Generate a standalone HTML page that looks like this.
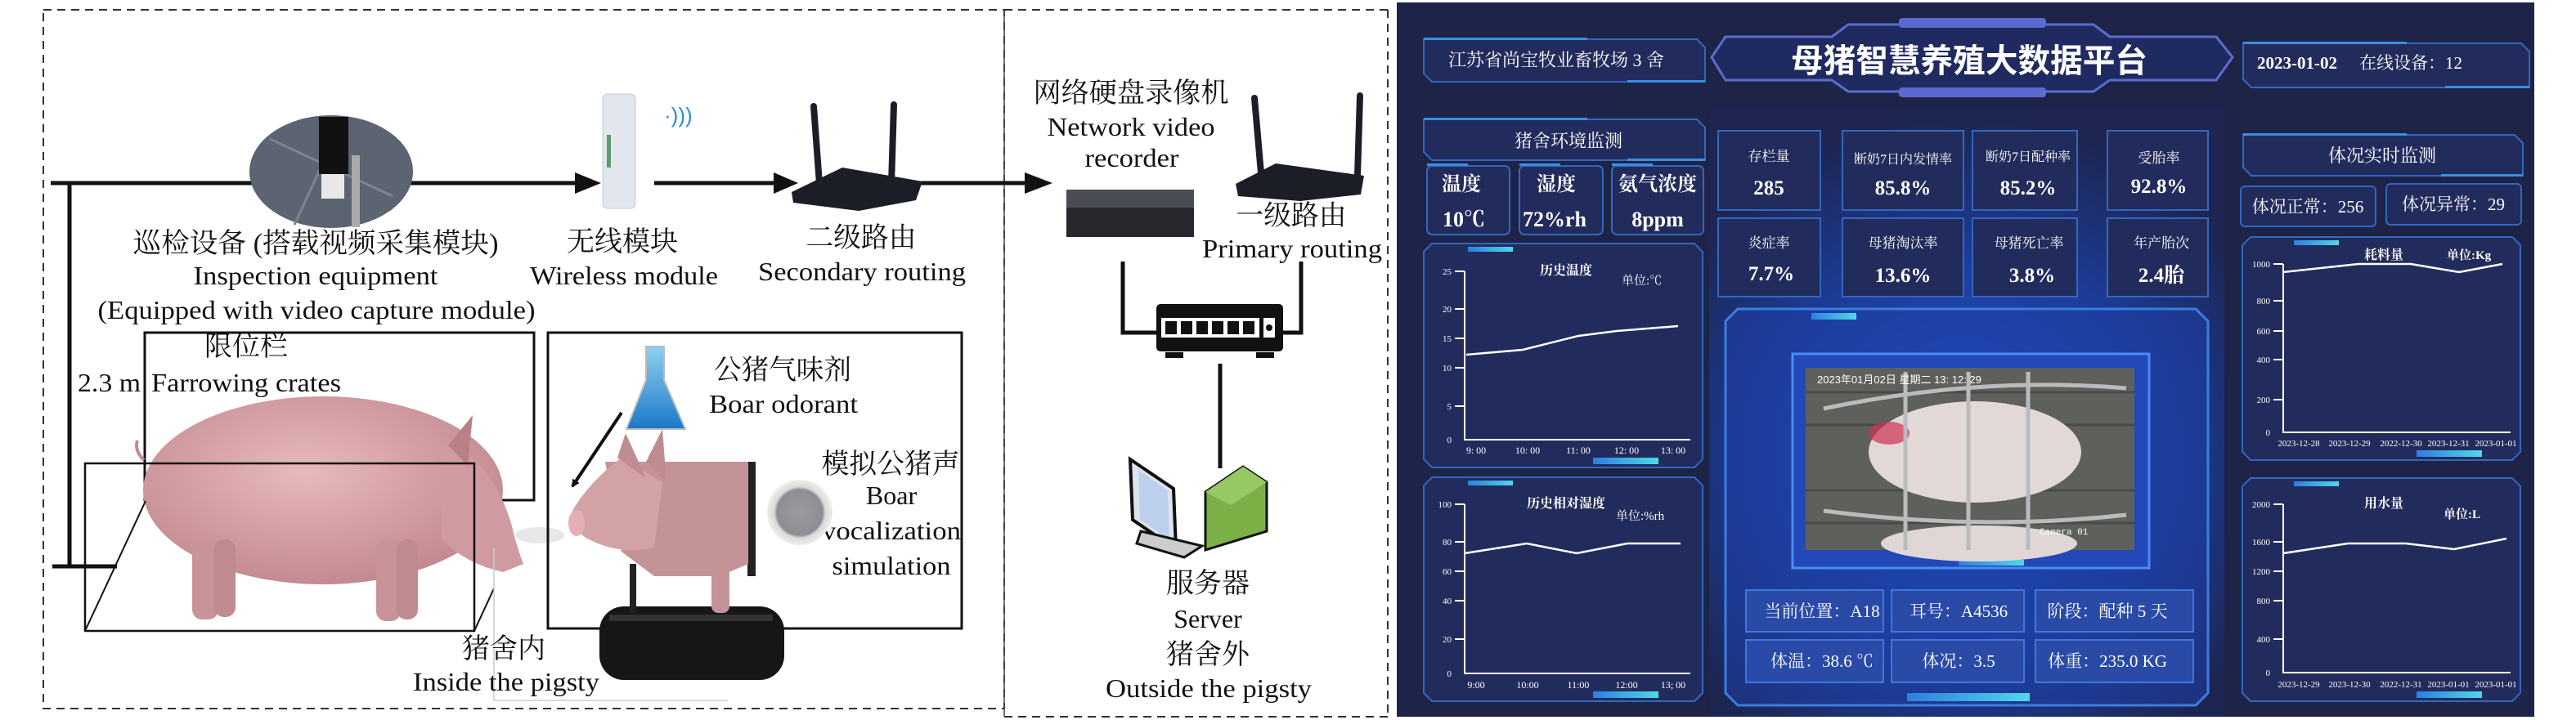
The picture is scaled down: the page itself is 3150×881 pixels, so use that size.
<!DOCTYPE html>
<html><head><meta charset="utf-8">
<style>
html,body{margin:0;padding:0;background:#fff;}
svg{display:block;}
.s{font-family:"Liberation Serif","Noto Serif CJK SC",serif;fill:#111;}
.w{font-family:"Liberation Serif","Noto Serif CJK SC",serif;fill:#fff;}
.wb{font-family:"Liberation Sans","Noto Sans CJK SC",sans-serif;fill:#fff;font-weight:bold;}
</style></head><body>
<svg width="3150" height="881" viewBox="0 0 3150 881" xmlns="http://www.w3.org/2000/svg">
<defs>
<radialGradient id="glow" cx="2400" cy="560" r="420" gradientUnits="userSpaceOnUse">
<stop offset="0" stop-color="#2456d6"/><stop offset="0.6" stop-color="#1c3d9a"/><stop offset="1" stop-color="#1d2550"/></radialGradient>
<linearGradient id="cyan" x1="0" x2="1"><stop offset="0" stop-color="#2f7ee0"/><stop offset="1" stop-color="#4fd8e8"/></linearGradient>
<radialGradient id="pigg" cx="0.45" cy="0.4" r="0.6"><stop offset="0" stop-color="#e7b9bd"/><stop offset="1" stop-color="#c38a91"/></radialGradient>
<radialGradient id="spk" cx="0.5" cy="0.5" r="0.5"><stop offset="0" stop-color="#9a9ca2"/><stop offset="0.7" stop-color="#8c8e94"/><stop offset="0.78" stop-color="#d9d9d9"/><stop offset="1" stop-color="#eeeeee"/></radialGradient>
<linearGradient id="flask" x1="0" y1="0" x2="0" y2="1"><stop offset="0" stop-color="#8fd0f0"/><stop offset="1" stop-color="#1b78c8"/></linearGradient>
<marker id="ah" markerWidth="10" markerHeight="10" refX="8" refY="5" orient="auto" markerUnits="userSpaceOnUse"><path d="M0,0 L10,5 L0,10 z" fill="#111"/></marker>
</defs>

<!-- ===== LEFT DIAGRAM ===== -->
<rect x="53" y="12" width="1175" height="855" fill="none" stroke="#333" stroke-width="2" stroke-dasharray="10,7"/>
<line x1="1228" y1="12" x2="1697" y2="12" stroke="#333" stroke-width="2" stroke-dasharray="10,7"/>
<line x1="1697" y1="12" x2="1697" y2="877" stroke="#333" stroke-width="2" stroke-dasharray="10,7"/>
<line x1="1228" y1="877" x2="1697" y2="877" stroke="#333" stroke-width="2" stroke-dasharray="10,7"/>
<line x1="1228" y1="12" x2="1228" y2="877" stroke="#444" stroke-width="1.5"/>

<!-- main bus -->
<line x1="62" y1="224" x2="705" y2="224" stroke="#111" stroke-width="5"/>
<path d="M703,211 L735,224 L703,237 z" fill="#111"/>
<line x1="85" y1="224" x2="85" y2="693" stroke="#111" stroke-width="5"/>
<line x1="64" y1="693" x2="143" y2="693" stroke="#111" stroke-width="5"/>
<line x1="800" y1="224" x2="948" y2="224" stroke="#111" stroke-width="5"/>
<path d="M946,211 L976,224 L946,237 z" fill="#111"/>
<line x1="1110" y1="224" x2="1255" y2="224" stroke="#111" stroke-width="5"/>
<path d="M1253,211 L1287,224 L1253,237 z" fill="#111"/>

<!-- inspection camera circle -->
<ellipse cx="405" cy="210" rx="100" ry="69" fill="#5b6470"/>
<path d="M330,170 L480,240 M420,145 L360,275" stroke="#7b8592" stroke-width="3"/>
<rect x="390" y="143" width="36" height="70" fill="#111"/>
<rect x="393" y="213" width="28" height="30" fill="#e8e8e8"/>
<rect x="430" y="190" width="10" height="88" fill="#aaa"/>

<!-- wireless module -->
<rect x="737" y="115" width="40" height="140" rx="6" fill="#e4e6ee" stroke="#c4c8d4"/>
<rect x="742" y="165" width="5" height="40" fill="#5c9a72"/>
<text x="812" y="150" font-size="26" fill="#2a8ae0" font-family="Liberation Sans,sans-serif">·)))</text>

<!-- secondary router -->
<path d="M968,235 L1030,205 L1128,222 L1120,245 L1050,258 L970,248 z" fill="#1b1e26"/>
<line x1="995" y1="130" x2="1002" y2="225" stroke="#1b1e26" stroke-width="8" stroke-linecap="round"/>
<line x1="1093" y1="128" x2="1090" y2="225" stroke="#1b1e26" stroke-width="8" stroke-linecap="round"/>

<!-- labels top -->
<text class="s" x="386" y="309" font-size="34" text-anchor="middle" textLength="447" lengthAdjust="spacingAndGlyphs">巡检设备 (搭载视频采集模块)</text>
<text class="s" x="386" y="348" font-size="32" text-anchor="middle" textLength="299" lengthAdjust="spacingAndGlyphs">Inspection equipment</text>
<text class="s" x="387" y="390" font-size="32" text-anchor="middle" textLength="535" lengthAdjust="spacingAndGlyphs">(Equipped with video capture module)</text>
<text class="s" x="761" y="307" font-size="34" text-anchor="middle">无线模块</text>
<text class="s" x="763" y="348" font-size="32" text-anchor="middle" textLength="230" lengthAdjust="spacingAndGlyphs">Wireless module</text>
<text class="s" x="1053" y="302" font-size="34" text-anchor="middle" textLength="135" lengthAdjust="spacingAndGlyphs">二级路由</text>
<text class="s" x="1054" y="343" font-size="32" text-anchor="middle" textLength="254" lengthAdjust="spacingAndGlyphs">Secondary routing</text>

<!-- right side network -->
<text class="s" x="1383" y="125" font-size="34" text-anchor="middle" textLength="239" lengthAdjust="spacingAndGlyphs">网络硬盘录像机</text>
<text class="s" x="1383" y="166" font-size="32" text-anchor="middle" textLength="205" lengthAdjust="spacingAndGlyphs">Network video</text>
<text class="s" x="1384" y="204" font-size="32" text-anchor="middle" textLength="115" lengthAdjust="spacingAndGlyphs">recorder</text>
<rect x="1304" y="232" width="156" height="58" fill="#26282d"/>
<rect x="1304" y="232" width="156" height="22" fill="#4a4d55"/>
<path d="M1511,225 L1560,200 L1668,215 L1664,238 L1590,246 L1514,240 z" fill="#1b1e26"/>
<line x1="1534" y1="120" x2="1542" y2="212" stroke="#1b1e26" stroke-width="8" stroke-linecap="round"/>
<line x1="1663" y1="117" x2="1660" y2="215" stroke="#1b1e26" stroke-width="8" stroke-linecap="round"/>
<text class="s" x="1579" y="275" font-size="34" text-anchor="middle" textLength="135" lengthAdjust="spacingAndGlyphs">一级路由</text>
<text class="s" x="1580" y="315" font-size="32" text-anchor="middle" textLength="220" lengthAdjust="spacingAndGlyphs">Primary routing</text>

<!-- switch -->
<path d="M1373,320 L1373,407 L1416,407" fill="none" stroke="#111" stroke-width="5"/>
<path d="M1591,320 L1591,407 L1568,407" fill="none" stroke="#111" stroke-width="5"/>
<rect x="1414" y="372" width="155" height="58" rx="5" fill="#111"/>
<rect x="1420" y="389" width="120" height="24" fill="#fff"/>
<g fill="#111"><rect x="1425" y="393" width="14" height="16"/><rect x="1444" y="393" width="14" height="16"/><rect x="1463" y="393" width="14" height="16"/><rect x="1482" y="393" width="14" height="16"/><rect x="1501" y="393" width="14" height="16"/><rect x="1520" y="393" width="14" height="16"/></g>
<rect x="1545" y="389" width="14" height="24" fill="#fff"/><circle cx="1552" cy="401" r="4" fill="#111"/>
<rect x="1425" y="431" width="22" height="7" fill="#111"/><rect x="1536" y="431" width="22" height="7" fill="#111"/>
<line x1="1492" y1="445" x2="1492" y2="573" stroke="#111" stroke-width="5"/>

<!-- server -->
<path d="M1382,562 L1435,598 L1438,672 L1385,636 z" fill="#dde3ef" stroke="#111" stroke-width="4"/>
<path d="M1392,575 L1428,600 L1430,660 L1394,636 z" fill="#bcd0ee"/>
<path d="M1395,650 L1470,668 L1448,682 L1390,665 z" fill="#ccc" stroke="#111" stroke-width="3"/>
<path d="M1474,602 L1520,571 L1549,590 L1549,650 L1474,673 z" fill="#7bb046" stroke="#111" stroke-width="3"/>
<path d="M1474,602 L1520,571 L1549,590 L1505,618 z" fill="#98c864"/>
<text class="s" x="1477" y="725" font-size="34" text-anchor="middle">服务器</text>
<text class="s" x="1477" y="768" font-size="32" text-anchor="middle">Server</text>
<text class="s" x="1477" y="812" font-size="34" text-anchor="middle">猪舍外</text>
<text class="s" x="1478" y="853" font-size="32" text-anchor="middle" textLength="252" lengthAdjust="spacingAndGlyphs">Outside the pigsty</text>

<!-- crates -->
<rect x="177" y="407" width="476" height="205" fill="none" stroke="#111" stroke-width="3"/>
<text class="s" x="301" y="435" font-size="34" text-anchor="middle">限位栏</text>
<text class="s" x="95" y="479" font-size="32" textLength="77" lengthAdjust="spacingAndGlyphs">2.3 m</text>
<text class="s" x="185" y="479" font-size="32" textLength="232" lengthAdjust="spacingAndGlyphs">Farrowing crates</text>

<!-- sow -->
<g>
<ellipse cx="395" cy="600" rx="220" ry="115" fill="url(#pigg)"/>
<path d="M540,540 Q600,560 625,640 Q632,670 640,690 L615,700 Q570,690 540,660 z" fill="#cf9aa0"/>
<path d="M548,545 L578,508 L572,570 z" fill="#b98088"/>
<rect x="235" y="660" width="32" height="98" rx="12" fill="#c9939a"/>
<rect x="262" y="660" width="26" height="95" rx="12" fill="#c08a91"/>
<rect x="460" y="660" width="30" height="100" rx="12" fill="#c9939a"/>
<rect x="485" y="660" width="26" height="98" rx="12" fill="#c08a91"/>
<path d="M176,563 q-12,-12 -8,-24" fill="none" stroke="#c08a91" stroke-width="4"/>
<ellipse cx="660" cy="655" rx="30" ry="10" fill="#ddd" opacity="0.7"/>
</g>
<rect x="104" y="567" width="476" height="205" fill="none" stroke="#111" stroke-width="2.5"/>
<line x1="104" y1="772" x2="178" y2="613" stroke="#111" stroke-width="2"/>
<line x1="580" y1="772" x2="604" y2="720" stroke="#111" stroke-width="2"/>
<path d="M604,670 L604,857 L890,857" fill="none" stroke="#ccc" stroke-width="1.5"/>
<text class="s" x="616" y="805" font-size="34" text-anchor="middle">猪舍内</text>
<text class="s" x="619" y="845" font-size="32" text-anchor="middle" textLength="228" lengthAdjust="spacingAndGlyphs">Inside the pigsty</text>

<!-- odorant box -->
<rect x="670" y="407" width="506" height="362" fill="none" stroke="#111" stroke-width="3"/>
<path d="M790,424 L812,424 L812,465 L838,525 L766,525 L790,465 z" fill="url(#flask)" stroke="#bbb" stroke-width="2"/>
<line x1="760" y1="505" x2="700" y2="595" stroke="#111" stroke-width="4" marker-end="url(#ah)"/>
<text class="s" x="957" y="464" font-size="34" text-anchor="middle" textLength="168" lengthAdjust="spacingAndGlyphs">公猪气味剂</text>
<text class="s" x="958" y="505" font-size="32" text-anchor="middle" textLength="182" lengthAdjust="spacingAndGlyphs">Boar odorant</text>
<text class="s" x="1089" y="579" font-size="34" text-anchor="middle" textLength="169" lengthAdjust="spacingAndGlyphs">模拟公猪声</text>
<text class="s" x="1090" y="617" font-size="32" text-anchor="middle">Boar</text>
<text class="s" x="1090" y="660" font-size="32" text-anchor="middle" textLength="170" lengthAdjust="spacingAndGlyphs">vocalization</text>
<text class="s" x="1090" y="703" font-size="32" text-anchor="middle" textLength="145" lengthAdjust="spacingAndGlyphs">simulation</text>
<circle cx="978" cy="627" r="40" fill="url(#spk)"/>

<!-- boar dummy -->
<rect x="733" y="742" width="226" height="90" rx="30" fill="#161616"/>
<rect x="745" y="752" width="200" height="8" fill="#333"/>
<rect x="770" y="690" width="8" height="60" fill="#222"/>
<rect x="914" y="565" width="10" height="140" fill="#222"/>
<path d="M740,565 L915,565 L915,690 L880,705 L800,705 L760,675 z" fill="#c49397"/>
<rect x="870" y="690" width="22" height="60" rx="8" fill="#c49397"/>
<path d="M760,560 Q720,590 700,625 Q700,650 720,660 Q760,680 800,670 L810,590 z" fill="#d2a2a6"/>
<path d="M755,560 L765,530 L790,585 z M790,565 L810,525 L815,590 z" fill="#c08c92"/>
<ellipse cx="705" cy="640" rx="10" ry="16" fill="#e3b1b5"/>

<!-- ===== DASHBOARD ===== -->
<rect x="1708" y="3" width="1391" height="874" fill="#1d2448"/>
<rect x="2090" y="130" width="630" height="747" fill="url(#glow)" opacity="0.95"/>

<g fill="#222c5c" stroke="#3466c0" stroke-width="2">
<!-- header boxes -->
<path d="M1741,48 L2075,48 L2085,58 L2085,100 L1751,100 L1741,90 z"/>
<path d="M2743,53 L3083,53 L3093,63 L3093,107 L2753,107 L2743,97 z"/>
<path d="M1741,146 L2075,146 L2085,156 L2085,196 L1751,196 L1741,186 z"/>
<path d="M2743,165 L3075,165 L3085,175 L3085,215 L2753,215 L2743,205 z"/>
<rect x="1745" y="203" width="101" height="84" rx="6"/>
<rect x="1858" y="203" width="102" height="84" rx="6"/>
<rect x="1971" y="203" width="112" height="84" rx="6"/>
<rect x="2740" y="228" width="165" height="49" rx="5"/>
<rect x="2918" y="225" width="165" height="50" rx="5"/>
<!-- KPI -->
<rect x="2101" y="160" width="125" height="97"/><rect x="2253" y="160" width="148" height="97"/><rect x="2412" y="160" width="128" height="97"/><rect x="2577" y="160" width="123" height="97"/>
<rect x="2101" y="267" width="125" height="96"/><rect x="2253" y="267" width="148" height="96"/><rect x="2412" y="267" width="128" height="96"/><rect x="2577" y="267" width="123" height="96"/>
<!-- charts -->
<path d="M1751,298 L2072,298 L2082,308 L2082,562 L2072,572 L1751,572 L1741,562 L1741,308 z"/>
<path d="M1751,584 L2072,584 L2082,594 L2082,848 L2072,858 L1751,858 L1741,848 L1741,594 z"/>
<path d="M2752,290 L3072,290 L3082,300 L3082,553 L3072,563 L2752,563 L2742,553 L2742,300 z"/>
<path d="M2752,585 L3072,585 L3082,595 L3082,848 L3072,858 L2752,858 L2742,848 L2742,595 z"/>
</g>
<!-- video panel -->
<path d="M2125,378 L2685,378 L2700,393 L2700,848 L2685,863 L2125,863 L2110,848 L2110,393 z" fill="#1d3fa8" fill-opacity="0.5" stroke="#3b7ee0" stroke-width="3"/>
<rect x="2192" y="433" width="436" height="262" fill="#2348b8" stroke="#4a8ef0" stroke-width="3"/>
<g fill="#2a4aa8" stroke="#3f78d8" stroke-width="2">
<rect x="2135" y="722" width="168" height="51"/><rect x="2313" y="722" width="162" height="51"/><rect x="2489" y="722" width="193" height="51"/>
<rect x="2135" y="783" width="168" height="52"/><rect x="2313" y="783" width="162" height="52"/><rect x="2489" y="783" width="193" height="52"/>
</g>
<!-- accent strips -->
<g fill="url(#cyan)">
<rect x="1795" y="302" width="55" height="6"/><rect x="1795" y="588" width="55" height="6"/>
<rect x="2805" y="294" width="55" height="6"/><rect x="2805" y="589" width="55" height="6"/>
<rect x="1948" y="560" width="80" height="8"/><rect x="1948" y="846" width="80" height="8"/>
<rect x="2955" y="551" width="80" height="8"/><rect x="2955" y="846" width="80" height="8"/>
<rect x="2215" y="383" width="55" height="8"/><rect x="2332" y="848" width="150" height="10"/>
<rect x="2395" y="685" width="80" height="7"/>
</g>
<g fill="#3a8fe0"><rect x="1745" y="200" width="50" height="3"/><rect x="1858" y="200" width="50" height="3"/><rect x="1971" y="200" width="50" height="3"/>
<rect x="1741" y="46" width="200" height="3"/><rect x="2743" y="51" width="200" height="3"/><rect x="1741" y="144" width="200" height="3"/><rect x="2743" y="163" width="200" height="3"/>
<rect x="1990" y="98" width="95" height="3"/><rect x="2990" y="105" width="103" height="3"/><rect x="1990" y="194" width="95" height="3"/><rect x="2985" y="213" width="100" height="3"/>
</g>
<!-- title frame -->
<path d="M2110,45 L2240,45 L2260,30 L2560,30 L2580,45 L2710,45 L2730,70 L2710,98 L2580,98 L2560,112 L2260,112 L2240,98 L2110,98 L2093,70 z" fill="#1f2a60" stroke="#5a6cd0" stroke-width="3"/>
<rect x="2322" y="22" width="180" height="12" rx="4" fill="#5a6ad0"/>
<rect x="2322" y="107" width="180" height="12" rx="4" fill="#5a6ad0"/>
<text class="wb" x="2408" y="88" font-size="40" text-anchor="middle" textLength="436" lengthAdjust="spacingAndGlyphs">母猪智慧养殖大数据平台</text>

<text class="w" x="1903" y="81" font-size="22" text-anchor="middle">江苏省尚宝牧业畜牧场 3 舍</text>
<text class="w" x="2760" y="84" font-size="21" font-weight="bold">2023-01-02</text>
<text class="w" x="2885" y="84" font-size="21">在线设备：12</text>
<text class="w" x="1918" y="180" font-size="22" text-anchor="middle">猪舍环境监测</text>
<text class="w" x="2913" y="198" font-size="22" text-anchor="middle">体况实时监测</text>
<text class="w" x="2822" y="260" font-size="21" text-anchor="middle">体况正常：256</text>
<text class="w" x="3000" y="257" font-size="21" text-anchor="middle">体况异常：29</text>

<g class="w" font-weight="bold" text-anchor="middle">
<text x="1787" y="233" font-size="24">温度</text><text x="1903" y="233" font-size="24">湿度</text><text x="2027" y="233" font-size="24">氨气浓度</text>
<text x="1790" y="277" font-size="26">10℃</text><text x="1901" y="277" font-size="26">72%rh</text><text x="2027" y="277" font-size="26">8ppm</text>
</g>
<g class="w" text-anchor="middle">
<text x="2163" y="197" font-size="17">存栏量</text><text x="2327" y="200" font-size="16">断奶7日内发情率</text><text x="2480" y="197" font-size="16">断奶7日配种率</text><text x="2640" y="199" font-size="17">受胎率</text>
<text x="2163" y="303" font-size="17">炎症率</text><text x="2327" y="303" font-size="17">母猪淘汰率</text><text x="2481" y="303" font-size="17">母猪死亡率</text><text x="2643" y="303" font-size="17">年产胎次</text>
</g>
<g class="w" font-weight="bold" text-anchor="middle" font-size="25">
<text x="2163" y="238">285</text><text x="2327" y="238">85.8%</text><text x="2480" y="238">85.2%</text><text x="2640" y="236">92.8%</text>
<text x="2166" y="343">7.7%</text><text x="2327" y="345">13.6%</text><text x="2485" y="345">3.8%</text><text x="2643" y="345">2.4胎</text>
</g>

<!-- video -->
<rect x="2208" y="450" width="402" height="223" fill="#5e605c"/>
<g stroke="#4a4b48" stroke-width="3"><line x1="2208" y1="480" x2="2610" y2="480"/><line x1="2208" y1="520" x2="2610" y2="520"/><line x1="2208" y1="600" x2="2610" y2="600"/><line x1="2208" y1="640" x2="2610" y2="640"/></g>
<ellipse cx="2415" cy="553" rx="130" ry="62" fill="#e2d8d8"/>
<ellipse cx="2310" cy="530" rx="25" ry="14" fill="#cc3355" opacity="0.7"/>
<ellipse cx="2420" cy="665" rx="120" ry="22" fill="#e0d6d6"/>
<g stroke="#b8bcbc" stroke-width="5" fill="none"><line x1="2330" y1="455" x2="2330" y2="673"/><line x1="2407" y1="455" x2="2407" y2="673"/><line x1="2480" y1="455" x2="2480" y2="673"/>
<path d="M2230,500 Q2420,460 2600,475"/><path d="M2230,625 Q2420,650 2600,630"/></g>
<text x="2222" y="469" font-size="13" fill="#fff" font-family="Liberation Sans,sans-serif">2023年01月02日 星期二 13: 12: 29</text>
<text x="2494" y="654" font-size="11" fill="#fff" font-family="Liberation Mono,monospace">Camera 01</text>

<g class="w" font-size="21" text-anchor="middle">
<text x="2228" y="755">当前位置：A18</text><text x="2395" y="755">耳号：A4536</text><text x="2577" y="755">阶段：配种 5 天</text>
<text x="2228" y="816">体温：38.6 ℃</text><text x="2395" y="816">体况：3.5</text><text x="2577" y="816">体重：235.0 KG</text>
</g>

<!-- charts -->
<g stroke="#fff" stroke-width="2" fill="none">
<path d="M1791,332 L1791,538 L2067,538"/><path d="M1779,332 L1791,332 M1779,378 L1791,378 M1779,414 L1791,414 M1779,450 L1791,450 M1779,497 L1791,497"/>
<path d="M1793,434 L1862,428 L1930,411 L1977,405 L2052,399" stroke-width="2.5"/>
<path d="M1791,617 L1791,824 L2067,824"/><path d="M1779,617 L1791,617 M1779,663 L1791,663 M1779,699 L1791,699 M1779,735 L1791,735 M1779,782 L1791,782"/>
<path d="M1791,677 L1867,665 L1928,677 L1990,665 L2055,665" stroke-width="2.5"/>
<path d="M2792,323 L2792,529 L3070,529"/><path d="M2780,323 L2792,323 M2780,368 L2792,368 M2780,405 L2792,405 M2780,440 L2792,440 M2780,489 L2792,489"/>
<path d="M2792,333 L2884,323 L2948,323 L3007,333 L3060,323" stroke-width="2.5"/>
<path d="M2792,617 L2792,823 L3070,823"/><path d="M2780,617 L2792,617 M2780,663 L2792,663 M2780,699 L2792,699 M2780,735 L2792,735 M2780,782 L2792,782"/>
<path d="M2792,677 L2871,665 L2942,665 L3001,672 L3065,659" stroke-width="2.5"/>
</g>
<g class="w" font-size="11" text-anchor="end">
<text x="1775" y="336">25</text><text x="1775" y="382">20</text><text x="1775" y="418">15</text><text x="1775" y="454">10</text><text x="1775" y="501">5</text><text x="1775" y="542">0</text>
<text x="1775" y="621">100</text><text x="1775" y="667">80</text><text x="1775" y="703">60</text><text x="1775" y="739">40</text><text x="1775" y="786">20</text><text x="1775" y="828">0</text>
<text x="2776" y="327">1000</text><text x="2776" y="372">800</text><text x="2776" y="409">600</text><text x="2776" y="444">400</text><text x="2776" y="493">200</text><text x="2776" y="533">0</text>
<text x="2776" y="621">2000</text><text x="2776" y="667">1600</text><text x="2776" y="703">1200</text><text x="2776" y="739">800</text><text x="2776" y="786">400</text><text x="2776" y="827">0</text>
</g>
<g class="w" font-size="12" text-anchor="middle">
<text x="1805" y="555">9: 00</text><text x="1868" y="555">10: 00</text><text x="1930" y="555">11: 00</text><text x="1989" y="555">12: 00</text><text x="2046" y="555">13: 00</text>
<text x="1805" y="842">9:00</text><text x="1868" y="842">10:00</text><text x="1930" y="842">11:00</text><text x="1989" y="842">12:00</text><text x="2046" y="842">13; 00</text>
<text x="2811" y="546" font-size="11">2023-12-28</text><text x="2873" y="546" font-size="11">2023-12-29</text><text x="2936" y="546" font-size="11">2022-12-30</text><text x="2994" y="546" font-size="11">2023-12-31</text><text x="3052" y="546" font-size="11">2023-01-01</text>
<text x="2811" y="841" font-size="11">2023-12-29</text><text x="2873" y="841" font-size="11">2023-12-30</text><text x="2936" y="841" font-size="11">2022-12-31</text><text x="2994" y="841" font-size="11">2023-01-01</text><text x="3052" y="841" font-size="11">2023-01-01</text>
</g>
<g class="w" font-weight="bold" font-size="16">
<text x="1915" y="336" text-anchor="middle">历史温度</text><text x="1983" y="348" font-weight="normal" font-size="15">单位:℃</text>
<text x="1915" y="621" text-anchor="middle">历史相对湿度</text><text x="1976" y="636" font-weight="normal" font-size="15">单位:%rh</text>
<text x="2915" y="317" text-anchor="middle">耗料量</text><text x="2992" y="317" font-size="15">单位:Kg</text>
<text x="2915" y="621" text-anchor="middle">用水量</text><text x="2988" y="634" font-size="15">单位:L</text>
</g>
</svg>
</body></html>
